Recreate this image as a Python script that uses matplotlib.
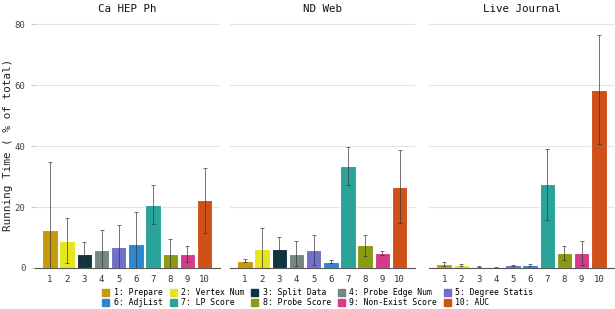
import numpy as np
import matplotlib.pyplot as plt

plt.rcParams['font.family'] = 'DejaVu Sans Mono'

steps = ['1: Prepare', '2: Vertex Num', '3: Split Data', '4: Probe Edge Num',
         '5: Degree Statis', '6: AdjList', '7: LP Score', '8: Probe Score',
         '9: Non-Exist Score', '10: AUC']
colors = ['#c79a0c', '#e6e61e', '#0f3440', '#778585', '#7070c8',
          '#2d86d2', '#2aa398', '#8a9a12', '#d63a88', '#cf5018']

datasets = ['Ca HEP Ph', 'ND Web', 'Live Journal']

ca_mean = [12.5, 9.0, 4.6, 5.9, 7.0, 7.9, 20.8, 4.6, 4.6, 22.2]
ca_err = [22.3, 7.3, 3.8, 6.6, 7.0, 10.6, 6.4, 5.0, 2.7, 10.7]
nd_mean = [2.4, 6.3, 6.1, 4.6, 5.8, 2.1, 33.4, 7.4, 4.9, 26.7]
nd_err = [0.6, 6.7, 4.2, 4.1, 5.0, 0.4, 6.3, 3.5, 0.8, 12.1]
lj_mean = [1.3, 0.9, 0.4, 0.2, 0.8, 0.9, 27.4, 4.9, 4.9, 58.6]
lj_err = [0.7, 0.4, 0.2, 0.1, 0.3, 0.4, 11.5, 2.2, 3.9, 17.8]

means = [ca_mean, nd_mean, lj_mean]
errs = [ca_err, nd_err, lj_err]

fig = plt.figure(figsize=(6.15, 3.09), dpi=100)
lefts = [0.057, 0.374, 0.698]
x = np.arange(1, 11)

for i, name in enumerate(datasets):
    ax = fig.add_axes([lefts[i], 0.133, 0.30, 0.793])
    ax.bar(x, means[i], width=0.9, color=colors, edgecolor='white', linewidth=0.8,
           yerr=errs[i], ecolor='#333333',
           error_kw=dict(elinewidth=0.6, capsize=1.2, capthick=0.6, alpha=0.8))
    ax.set_xlim(0.13, 10.87)
    ax.set_ylim(0, 80.5)
    ax.set_xticks(x)
    ax.set_xticklabels([str(v) for v in x])
    ax.set_yticks([0, 20, 40, 60, 80])
    ax.grid(axis='y', color='#e3e3e3', linewidth=0.8)
    ax.set_axisbelow(True)
    for s in ['top', 'right', 'left']:
        ax.spines[s].set_visible(False)
    ax.spines['bottom'].set_color('#555555')
    ax.spines['bottom'].set_linewidth(0.8)
    ax.tick_params(axis='x', length=0, labelsize=6.5, colors='#333333', pad=5)
    ax.tick_params(axis='y', length=3, color='#cccccc', labelsize=6.5,
                   labelcolor='#444444', pad=4)
    if i > 0:
        ax.set_yticklabels([])
        ax.tick_params(axis='y', length=0)
    ax.set_title(name, fontsize=7.8, color='#111111', pad=8)

fig.text(8 / 615, 0.53, 'Running Time ( % of total)', rotation=90, ha='center',
         va='center', fontsize=7.9, color='#222222')

# legend filled row by row: 1-5 on top, 6-10 below
order = [0, 5, 1, 6, 2, 7, 3, 8, 4, 9]
handles = [plt.Rectangle((0, 0), 1, 1, color=colors[k]) for k in order]
labels = [steps[k] for k in order]
fig.legend(handles, labels, loc='upper center', bbox_to_anchor=(0.517, 0.08), ncol=5,
           frameon=False, fontsize=5.9, handlelength=0.85, handleheight=1.0,
           handletextpad=0.5, columnspacing=0.9, labelspacing=0.1, borderpad=0)

fig.savefig('out.png', dpi=100)
